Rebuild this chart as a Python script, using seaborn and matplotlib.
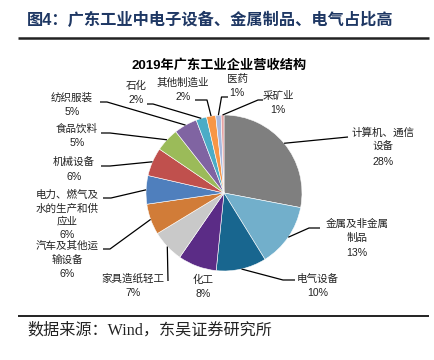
import numpy as np
import matplotlib
matplotlib.use("Agg")
import matplotlib.pyplot as plt
import seaborn as sns

sns.set_theme(style="white")
CJK = ["Liberation Sans", "Noto Sans CJK SC", "DejaVu Sans"]
plt.rcParams["font.family"] = CJK

# ---- data ----
categories = ["计算机、通信设备", "金属及非金属制品", "电气设备", "化工", "家具造纸轻工",
              "汽车及其他运输设备", "电力、燃气及水的生产和供应业", "机械设备", "食品饮料",
              "纺织服装", "石化", "其他制造业", "医药", "采矿业"]
shares = [28.0, 13.2, 10.4, 8.0, 6.7, 6.4, 5.9, 5.9, 4.9, 4.8, 2.2, 1.9, 1.1, 0.6]
label_lines = [["计算机、通信", "设备"], ["金属及非金属", "制品"], ["电气设备"], ["化工"],
               ["家具造纸轻工"], ["汽车及其他运", "输设备"],
               ["电力、燃气及", "水的生产和供", "应业"], ["机械设备"], ["食品饮料"],
               ["纺织服装"], ["石化"], ["其他制造业"], ["医药"], ["采矿业"]]
colors = ["#7f7f7f", "#72afcb", "#18668f", "#5b2c86", "#c9c9c9", "#d17c38", "#4f7fbd",
          "#c0504d", "#9bbb59", "#8064a2", "#4bacc6", "#f79646", "#a8b9de", "#e6a3a3"]
chart_title = "2019年广东工业企业营收结构"
fig_title = "图4：广东工业中电子设备、金属制品、电气占比高"
source = "数据来源：Wind，东吴证券研究所"

W, H = 434, 360
fig = plt.figure(figsize=(W / 100, H / 100), dpi=100)
ax = fig.add_axes([0, 0, 1, 1])

CX, CY, R = 224, 193, 78   # pixel coordinates, y from top
def P(x, y):
    return x, H - y

wedges, _ = ax.pie(shares, colors=colors, startangle=90, counterclock=False,
                   radius=R, center=P(CX, CY), frame=True,
                   wedgeprops=dict(linewidth=0.4, edgecolor="white"))
ax.set_xlim(0, W)
ax.set_ylim(0, H)
ax.set_aspect("equal")
ax.axis("off")

# label layout: (center x, first line y, line step, leader path points after wedge edge)
layout = [
    (383, 133, 14.3, [(348, 137)]),
    (357, 224, 14.3, [(309, 228), (320, 228)]),
    (318, 279, 14.3, [(283, 280), (295, 280)]),
    (203, 280, 14.3, None),
    (133, 279, 14.3, [(168, 281)]),
    (67, 246, 14.0, [(110, 249), (103, 249)]),
    (67, 195, 13.3, [(111, 198), (103, 198)]),
    (74, 162, 14.5, [(110, 166), (101, 166)]),
    (77, 129, 14.3, [(110, 133), (101, 133)]),
    (72, 98, 14.3, [(107, 102), (100, 102)]),
    (136, 86, 14.3, [(153, 104), (147, 104)]),
    (183, 83, 14.0, [(207, 100), (195, 100)]),
    (237, 79, 13.5, [(221.5, 97), (228, 97)]),
    (278, 96, 14.0, [(258, 100), (263, 100)]),
]

for w, lines, val, (cx, y0, step, path) in zip(wedges, label_lines, shares, layout):
    allines = lines + [f"{val:.0f}%"]
    for i, t in enumerate(allines):
        ax.text(*P(cx, y0 + i * step), t, ha="center", va="center",
                fontsize=7.6, color="#222222", family=CJK)
    if path:
        mid = np.deg2rad((w.theta1 + w.theta2) / 2)
        sx = w.center[0] + R * np.cos(mid)
        sy = w.center[1] + R * np.sin(mid)
        xs = [sx] + [p[0] for p in path]
        ys = [sy] + [H - p[1] for p in path]
        ax.plot(xs, ys, color="black", lw=0.9, solid_capstyle="butt")

ax.text(*P(219, 66), chart_title, ha="center", va="center", fontsize=9.5,
        fontweight="bold", color="black", family=CJK)
ax.text(*P(27, 20), fig_title, ha="left", va="center", fontsize=11.7,
        fontweight="bold", color="#1f3864", family=CJK)
ax.plot([18, 429], [H - 38, H - 38], color="#222222", lw=1.8, solid_capstyle="butt")
ax.plot([18, 429], [H - 316, H - 316], color="#222222", lw=1.4, solid_capstyle="butt")
ax.text(*P(27, 330), source, ha="left", va="center", fontsize=11.6,
        color="#222222", family=["Liberation Serif", "Noto Sans CJK SC", "DejaVu Sans"])

fig.savefig("out.png", dpi=100, facecolor="white")
